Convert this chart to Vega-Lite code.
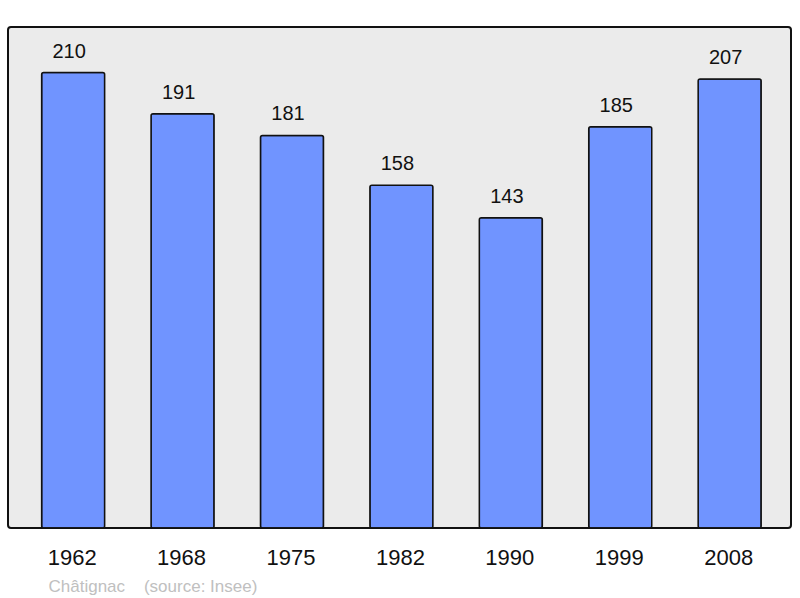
{
  "$schema": "https://vega.github.io/schema/vega-lite/v6.json",
  "width": 783,
  "height": 501,
  "autosize": {"type": "none"},
  "padding": {"left": 8, "top": 27, "right": 9, "bottom": 70},
  "background": "#ffffff",
  "config": {
    "font": "Liberation Sans",
    "view": {"fill": "#ebebeb", "stroke": "#111111", "strokeWidth": 2, "cornerRadius": 3}
  },
  "data": {
    "values": [
      {"year": "1962", "pop": 210},
      {"year": "1968", "pop": 191},
      {"year": "1975", "pop": 181},
      {"year": "1982", "pop": 158},
      {"year": "1990", "pop": 143},
      {"year": "1999", "pop": 185},
      {"year": "2008", "pop": 207}
    ]
  },
  "encoding": {
    "x": {
      "field": "year",
      "type": "nominal",
      "sort": null,
      "scale": {"paddingInner": 0.424, "paddingOuter": 0.29, "align": 0.53},
      "axis": {
        "title": "Châtignac\u00a0\u00a0\u00a0\u00a0(source: Insee)",
        "titleFont": "Liberation Sans",
        "titleFontSize": 17,
        "titleFontWeight": "normal",
        "titleColor": "#c0c0c0",
        "titleAnchor": "start",
        "titleAlign": "left",
        "titleBaseline": "alphabetic",
        "titleX": 40,
        "titleY": 63,
        "labelAngle": 0,
        "labelFontSize": 22,
        "labelColor": "#111111",
        "labelBaseline": "alphabetic",
        "labelPadding": 36,
        "labelOffset": -1,
        "domain": false,
        "ticks": false,
        "grid": false
      }
    },
    "y": {
      "field": "pop",
      "type": "quantitative",
      "scale": {"domain": [0, 231], "nice": false, "zero": true},
      "axis": null
    }
  },
  "layer": [
    {
      "mark": {"type": "bar", "fill": "#7094ff", "stroke": "#111111", "strokeWidth": 1.5, "cornerRadius": 2}
    },
    {
      "mark": {"type": "text", "baseline": "alphabetic", "dy": -15, "dx": -4, "fontSize": 20, "color": "#111111"},
      "encoding": {"text": {"field": "pop", "type": "quantitative"}}
    }
  ]
}
